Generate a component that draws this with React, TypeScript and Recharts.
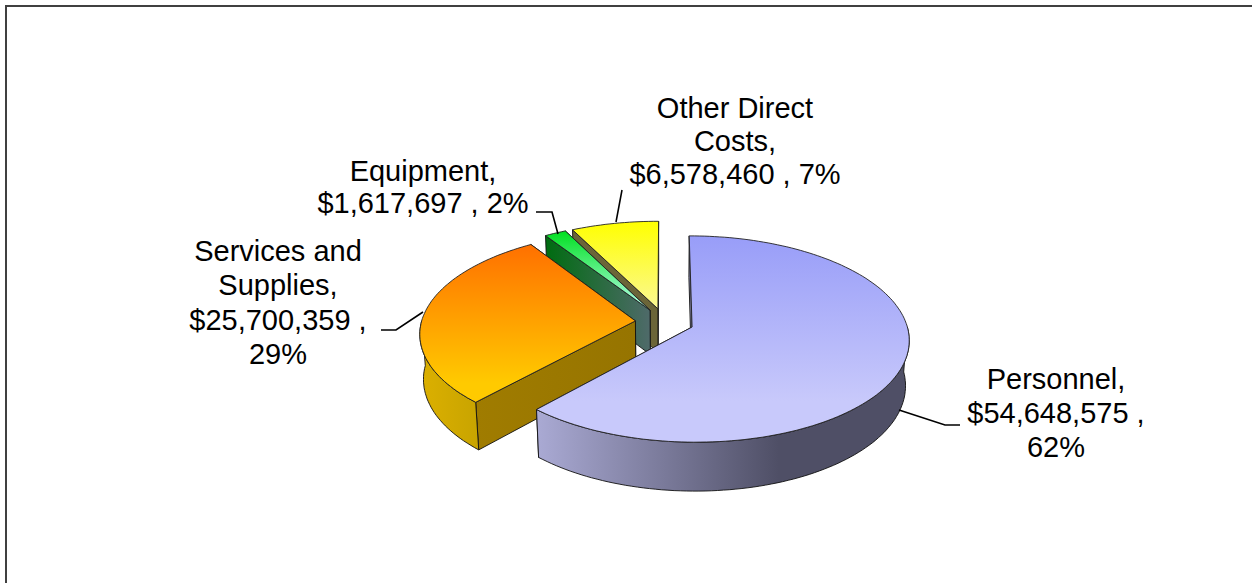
import { Pie, PieChart } from 'recharts';

const categories = ['Personnel', 'Services and Supplies', 'Equipment', 'Other Direct Costs'];
const amounts = [54648575, 25700359, 1617697, 6578460];
const labelLines = [
  ['Personnel,', '$54,648,575 ,', '62%'],
  ['Services and', 'Supplies,', '$25,700,359 ,', '29%'],
  ['Equipment,', '$1,617,697 , 2%'],
  ['Other Direct', 'Costs,', '$6,578,460 , 7%'],
];

const topColors = [
  ['#989df8', '#c8c9fb'],
  ['#ff7000', '#ffca00'],
  ['#00e020', '#b8ffec'],
  ['#ffff00', '#fbf894'],
];
const sideColors = [
  ['#aaaad4', '#4f4f66'],
  ['#dcb000', '#c8a400'],
  ['#006c10', '#4f6a6a'],
  ['#6b6538', '#6b6538'],
];
const wallColors = [
  ['#8888aa', '#8888aa'],
  ['#a07c00', '#967400'],
  ['#006c10', '#4f6a6a'],
  ['#6b6538', '#6b6538'],
];
const labelSpots = [
  { x: 1056, y: 389, gap: 34, leader: '899,410 945,425 960,425' },
  { x: 278, y: 261, gap: 34.3, leader: '423,312 396,330 381,330' },
  { x: 423, y: 181, gap: 32, leader: '536,212 552,212 558,234' },
  { x: 735, y: 118, gap: 33, leader: '616,222 622,190' },
];

const CX = 664.6;
const CY = 322;
const RADIUS = 214;
const SQUASH = 0.47;
const PERSPECTIVE = 0.116;
const DEPTH = 45.5;
const EXPLODE = 0.137;

const rad = (d: number) => (d * Math.PI) / 180;

// pie plane -> screen, z = 0 top face, z = 1 bottom face
function project(u: number, v: number, z: number) {
  const w = 1 - PERSPECTIVE * v + 0.015 * z;
  return [CX + (RADIUS * u) / w, CY + (RADIUS * SQUASH * v + DEPTH * z) / w];
}

function SliceShape(props: any) {
  const i = categories.indexOf(props.name);
  let t0 = 90 - props.endAngle;
  let t1 = 90 - props.startAngle;
  if (t0 < 0) {
    t0 += 360;
    t1 += 360;
  }
  const mid = rad((t0 + t1) / 2);
  const ou = EXPLODE * Math.sin(mid);
  const ov = -EXPLODE * Math.cos(mid);
  const at = (t: number, r: number, z: number) =>
    project(ou + r * Math.sin(rad(t)), ov - r * Math.cos(rad(t)), z);
  const arc = (a: number, b: number, z: number) => {
    const pts: number[][] = [];
    const n = Math.max(2, Math.ceil(Math.abs(b - a) / 1.5));
    for (let k = 0; k <= n; k++) pts.push(at(a + ((b - a) * k) / n, 1, z));
    return pts;
  };
  const toPath = (pts: number[][]) =>
    'M' + pts.map((p) => `${p[0].toFixed(1)},${p[1].toFixed(1)}`).join('L') + 'Z';
  const wall = (t: number) =>
    toPath([at(t, 0, 0), at(t, 1, 0), at(t, 1, 1), at(t, 0, 1)]);
  const a0 = Math.max(t0, 90);
  const a1 = Math.min(t1, 270);

  return (
    <g>
      <defs>
        <linearGradient id={`top${i}`} x1="0" y1="0" x2="0" y2="1">
          <stop offset="0" stopColor={topColors[i][0]} />
          <stop offset={i === 0 ? 0.8 : i === 1 ? 0.88 : 1} stopColor={topColors[i][1]} />
        </linearGradient>
        <linearGradient id={`side${i}`} x1="0" y1="0" x2="1" y2="0">
          <stop offset="0" stopColor={sideColors[i][0]} />
          <stop offset={i === 0 ? 0.65 : 1} stopColor={sideColors[i][1]} />
        </linearGradient>
        <linearGradient id={`wall${i}`} x1="0" y1="0" x2="1" y2="0">
          <stop offset="0" stopColor={wallColors[i][0]} />
          <stop offset="1" stopColor={wallColors[i][1]} />
        </linearGradient>
      </defs>
      <path d={wall(t1)} fill={`url(#wall${i})`} stroke="#111" strokeWidth={0.9} />
      <path d={wall(t0)} fill={`url(#wall${i})`} stroke="#111" strokeWidth={0.9} />
      {a0 < a1 && (
        <path
          d={toPath([...arc(a0, a1, 0), ...arc(a1, a0, 1)])}
          fill={`url(#side${i})`}
          stroke="#111"
          strokeWidth={0.9}
        />
      )}
      <path
        d={toPath([at(t0, 0, 0), ...arc(t0, t1, 0)])}
        fill={`url(#top${i})`}
        stroke="#222"
        strokeWidth={0.9}
      />
    </g>
  );
}

function renderLabel(props: any) {
  const i = categories.indexOf(props.name);
  const spot = labelSpots[i];
  return (
    <g key={props.name}>
      <polyline points={spot.leader} fill="none" stroke="#000" strokeWidth={1.6} />
      <text
        x={spot.x}
        y={spot.y}
        textAnchor="middle"
        fontFamily="Liberation Sans"
        fontSize={29}
        fill="#000"
      >
        {labelLines[i].map((line, k) => (
          <tspan key={k} x={spot.x} dy={k === 0 ? 0 : spot.gap}>
            {line}
          </tspan>
        ))}
      </text>
    </g>
  );
}

// back slices first, so the front ones paint over them
const pieData = categories.map((name, i) => ({ name, value: amounts[i] })).reverse();

export default function App() {
  return (
    <div style={{ position: 'fixed', left: 0, top: 0, width: 1252, height: 583, overflow: 'hidden', background: '#fff' }}>
      <div
        style={{
          position: 'absolute',
          left: 5,
          top: 5,
          width: 1300,
          height: 700,
          borderLeft: '2px solid #404040',
          borderTop: '2px solid #404040',
        }}
      />
      <PieChart width={1252} height={583} style={{ position: 'absolute', left: 0, top: 0 }}>
        <Pie
          data={pieData}
          dataKey="value"
          nameKey="name"
          cx={CX}
          cy={CY}
          outerRadius={RADIUS}
          startAngle={90}
          endAngle={450}
          shape={SliceShape}
          label={renderLabel}
          labelLine={false}
          isAnimationActive={false}
        />
      </PieChart>
    </div>
  );
}
